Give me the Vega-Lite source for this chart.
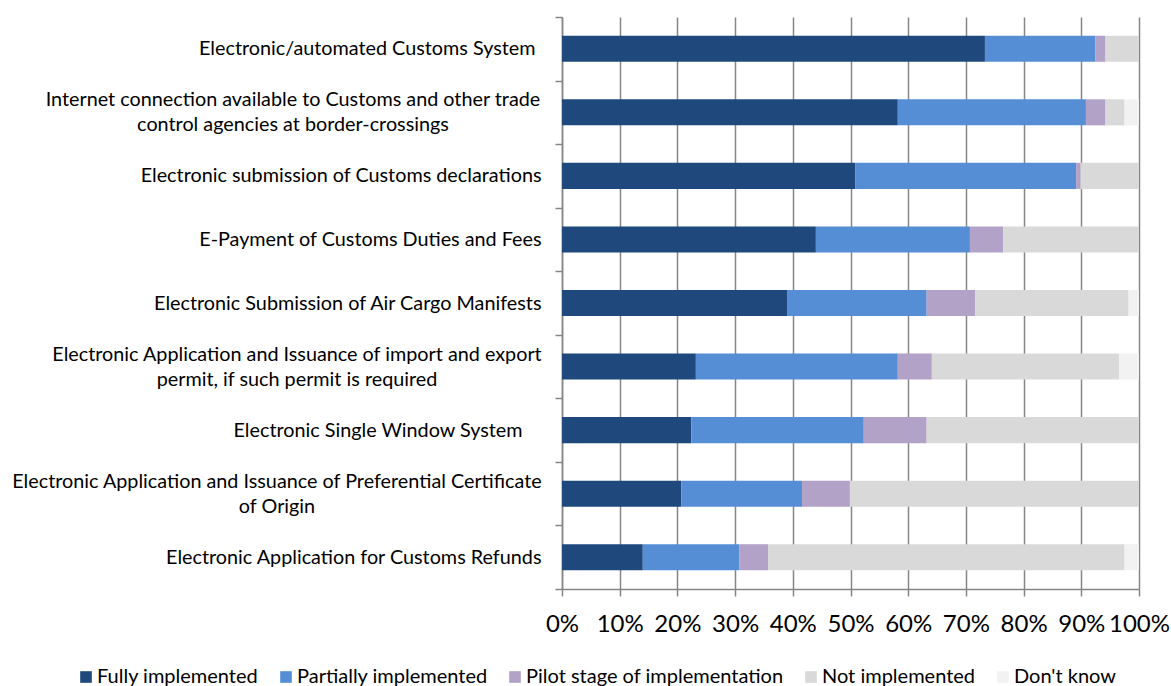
{
  "$schema": "https://vega.github.io/schema/vega-lite/v6.json",
  "width": 577,
  "height": 572,
  "autosize": {"type": "none"},
  "padding": {"left": 562, "top": 17, "right": 32, "bottom": 97},
  "background": "white",
  "config": {
    "view": {"stroke": null},
    "font": "Lato"
  },
  "data": {
    "values": [
      {"cat": "Electronic/automated Customs System", "status": "Fully implemented", "k": 1, "pct": 73.3},
      {"cat": "Electronic/automated Customs System", "status": "Partially implemented", "k": 2, "pct": 19.1},
      {"cat": "Electronic/automated Customs System", "status": "Pilot stage of implementation", "k": 3, "pct": 1.8},
      {"cat": "Electronic/automated Customs System", "status": "Not implemented", "k": 4, "pct": 5.8},
      {"cat": "Electronic/automated Customs System", "status": "Don't know", "k": 5, "pct": 0},
      {"cat": "Internet connection available to Customs and other trade|control agencies at border-crossings", "status": "Fully implemented", "k": 1, "pct": 58.2},
      {"cat": "Internet connection available to Customs and other trade|control agencies at border-crossings", "status": "Partially implemented", "k": 2, "pct": 32.6},
      {"cat": "Internet connection available to Customs and other trade|control agencies at border-crossings", "status": "Pilot stage of implementation", "k": 3, "pct": 3.4},
      {"cat": "Internet connection available to Customs and other trade|control agencies at border-crossings", "status": "Not implemented", "k": 4, "pct": 3.3},
      {"cat": "Internet connection available to Customs and other trade|control agencies at border-crossings", "status": "Don't know", "k": 5, "pct": 2.5},
      {"cat": "Electronic submission of Customs declarations", "status": "Fully implemented", "k": 1, "pct": 50.8},
      {"cat": "Electronic submission of Customs declarations", "status": "Partially implemented", "k": 2, "pct": 38.3},
      {"cat": "Electronic submission of Customs declarations", "status": "Pilot stage of implementation", "k": 3, "pct": 0.8},
      {"cat": "Electronic submission of Customs declarations", "status": "Not implemented", "k": 4, "pct": 10.1},
      {"cat": "Electronic submission of Customs declarations", "status": "Don't know", "k": 5, "pct": 0},
      {"cat": "E-Payment of Customs Duties and Fees", "status": "Fully implemented", "k": 1, "pct": 44.0},
      {"cat": "E-Payment of Customs Duties and Fees", "status": "Partially implemented", "k": 2, "pct": 26.7},
      {"cat": "E-Payment of Customs Duties and Fees", "status": "Pilot stage of implementation", "k": 3, "pct": 5.8},
      {"cat": "E-Payment of Customs Duties and Fees", "status": "Not implemented", "k": 4, "pct": 23.5},
      {"cat": "E-Payment of Customs Duties and Fees", "status": "Don't know", "k": 5, "pct": 0},
      {"cat": "Electronic Submission of Air Cargo Manifests", "status": "Fully implemented", "k": 1, "pct": 39.0},
      {"cat": "Electronic Submission of Air Cargo Manifests", "status": "Partially implemented", "k": 2, "pct": 24.2},
      {"cat": "Electronic Submission of Air Cargo Manifests", "status": "Pilot stage of implementation", "k": 3, "pct": 8.4},
      {"cat": "Electronic Submission of Air Cargo Manifests", "status": "Not implemented", "k": 4, "pct": 26.6},
      {"cat": "Electronic Submission of Air Cargo Manifests", "status": "Don't know", "k": 5, "pct": 1.8},
      {"cat": "Electronic Application and Issuance of import and export|permit, if such permit is required", "status": "Fully implemented", "k": 1, "pct": 23.2},
      {"cat": "Electronic Application and Issuance of import and export|permit, if such permit is required", "status": "Partially implemented", "k": 2, "pct": 35.0},
      {"cat": "Electronic Application and Issuance of import and export|permit, if such permit is required", "status": "Pilot stage of implementation", "k": 3, "pct": 5.9},
      {"cat": "Electronic Application and Issuance of import and export|permit, if such permit is required", "status": "Not implemented", "k": 4, "pct": 32.5},
      {"cat": "Electronic Application and Issuance of import and export|permit, if such permit is required", "status": "Don't know", "k": 5, "pct": 3.4},
      {"cat": "Electronic Single Window System", "status": "Fully implemented", "k": 1, "pct": 22.4},
      {"cat": "Electronic Single Window System", "status": "Partially implemented", "k": 2, "pct": 29.9},
      {"cat": "Electronic Single Window System", "status": "Pilot stage of implementation", "k": 3, "pct": 10.9},
      {"cat": "Electronic Single Window System", "status": "Not implemented", "k": 4, "pct": 36.8},
      {"cat": "Electronic Single Window System", "status": "Don't know", "k": 5, "pct": 0},
      {"cat": "Electronic Application and Issuance of Preferential Certificate|of Origin", "status": "Fully implemented", "k": 1, "pct": 20.7},
      {"cat": "Electronic Application and Issuance of Preferential Certificate|of Origin", "status": "Partially implemented", "k": 2, "pct": 20.9},
      {"cat": "Electronic Application and Issuance of Preferential Certificate|of Origin", "status": "Pilot stage of implementation", "k": 3, "pct": 8.3},
      {"cat": "Electronic Application and Issuance of Preferential Certificate|of Origin", "status": "Not implemented", "k": 4, "pct": 50.1},
      {"cat": "Electronic Application and Issuance of Preferential Certificate|of Origin", "status": "Don't know", "k": 5, "pct": 0},
      {"cat": "Electronic Application for Customs Refunds", "status": "Fully implemented", "k": 1, "pct": 14.0},
      {"cat": "Electronic Application for Customs Refunds", "status": "Partially implemented", "k": 2, "pct": 16.7},
      {"cat": "Electronic Application for Customs Refunds", "status": "Pilot stage of implementation", "k": 3, "pct": 5.0},
      {"cat": "Electronic Application for Customs Refunds", "status": "Not implemented", "k": 4, "pct": 61.8},
      {"cat": "Electronic Application for Customs Refunds", "status": "Don't know", "k": 5, "pct": 2.5}
    ]
  },
  "mark": {"type": "bar", "height": {"band": 0.41}},
  "encoding": {
    "y": {
      "field": "cat",
      "type": "nominal",
      "sort": null,
      "scale": {"paddingInner": 0, "paddingOuter": 0},
      "axis": {
        "title": null,
        "labelExpr": "split(datum.label, '|')",
        "labelFontSize": 19.8,
        "labelColor": "#000000",
        "labelLineHeight": 25,
        "labelPadding": 14,
        "labelLimit": 600,
        "encoding": {
          "labels": {
            "align": {"value": {"expr": "indexof('' + datum.value, '|') >= 0 ? 'center' : 'right'"}},
            "dx": {"value": {"expr": "indexof('' + datum.value, 'Internet') >= 0 ? -248.5 : indexof('' + datum.value, 'import and export') >= 0 ? -244.5 : indexof('' + datum.value, 'Preferential') >= 0 ? -264.5 : indexof('' + datum.value, 'automated') >= 0 ? -6 : indexof('' + datum.value, 'Single Window') >= 0 ? -19 : 0"}},
            "dy": {"value": {"expr": "indexof('' + datum.value, '|') >= 0 ? -12.5 : 0"}}
          }
        },
        "tickSize": 7,
        "tickBand": "extent",
        "tickColor": "#868686",
        "tickWidth": 1.5,
        "domainColor": "#868686",
        "domainWidth": 1.5,
        "grid": false
      }
    },
    "x": {
      "field": "pct",
      "type": "quantitative",
      "stack": "normalize",
      "scale": {"domain": [0, 1], "nice": false},
      "axis": {
        "title": null,
        "format": ".0%",
        "values": [0, 0.1, 0.2, 0.3, 0.4, 0.5, 0.6, 0.7, 0.8, 0.9, 1],
        "labelFontSize": 24,
        "labelColor": "#000000",
        "labelPadding": 16,
        "labelBaseline": "top",
        "labelOverlap": false,
        "labelFlush": false,
        "tickSize": 7,
        "tickColor": "#868686",
        "tickWidth": 1.5,
        "domainColor": "#868686",
        "domainWidth": 1.5,
        "grid": true,
        "gridColor": "#868686",
        "gridWidth": 1.5
      }
    },
    "color": {
      "field": "status",
      "type": "nominal",
      "scale": {
        "domain": ["Fully implemented", "Partially implemented", "Pilot stage of implementation", "Not implemented", "Don't know"],
        "range": ["#1F497D", "#558ED5", "#B3A2C7", "#D9D9D9", "#F2F2F2"]
      },
      "legend": {
        "title": null,
        "orient": "none",
        "direction": "horizontal",
        "legendX": -486,
        "legendY": 650,
        "symbolType": "square",
        "symbolSize": 135,
        "symbolStrokeWidth": 0,
        "labelFontSize": 20,
        "labelColor": "#000000",
        "labelOffset": 1,
        "columnPadding": 17,
        "labelLimit": 400
      }
    },
    "order": {"field": "k", "type": "quantitative"}
  }
}
